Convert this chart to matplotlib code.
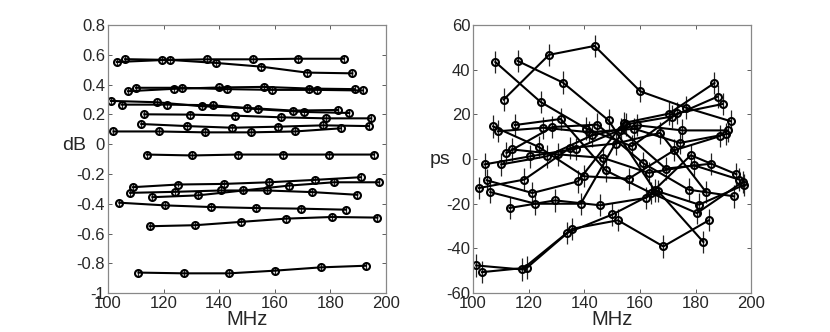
import matplotlib.pyplot as plt
from matplotlib.ticker import FormatStrFormatter

plt.rcParams['font.family'] = ['Liberation Sans', 'DejaVu Sans']
plt.rcParams['axes.unicode_minus'] = False

# frecuencias de cada canal (MHz), 16 canales x 6 puntos
freqs = [
    [103.2, 119.4, 135.7, 152.1, 168.4, 184.8],
    [106.2, 122.4, 138.7, 155.1, 171.5, 187.9],
    [107.2, 123.6, 139.8, 156.0, 172.3, 188.7],
    [110.1, 126.5, 142.8, 158.9, 175.3, 191.7],
    [101.1, 117.6, 133.7, 150.1, 166.5, 182.8],
    [104.9, 121.3, 137.7, 154.1, 170.4, 186.8],
    [113.1, 129.5, 145.7, 162.2, 178.3, 194.7],
    [112.0, 128.5, 144.7, 161.1, 177.5, 193.9],
    [102.0, 118.4, 134.8, 151.3, 167.3, 183.8],
    [114.0, 130.4, 146.7, 163.1, 179.4, 195.7],
    [108.9, 125.3, 141.6, 158.0, 174.4, 190.9],
    [108.0, 124.3, 140.7, 157.1, 173.5, 189.7],
    [116.0, 132.3, 148.7, 165.3, 181.3, 197.6],
    [104.1, 120.5, 136.9, 153.2, 169.3, 185.6],
    [115.0, 131.5, 147.7, 164.0, 180.5, 196.9],
    [111.0, 127.3, 143.7, 160.1, 176.5, 192.7],
]

# amplitud (dB)
db = [
    [0.551, 0.564, 0.569, 0.569, 0.573, 0.573],
    [0.570, 0.565, 0.545, 0.520, 0.480, 0.475],
    [0.355, 0.371, 0.380, 0.384, 0.373, 0.369],
    [0.378, 0.378, 0.369, 0.364, 0.364, 0.360],
    [0.290, 0.281, 0.254, 0.243, 0.225, 0.229],
    [0.265, 0.265, 0.261, 0.234, 0.216, 0.209],
    [0.200, 0.198, 0.191, 0.180, 0.173, 0.173],
    [0.135, 0.121, 0.110, 0.117, 0.126, 0.121],
    [0.085, 0.085, 0.079, 0.079, 0.085, 0.106],
    [-0.070, -0.076, -0.070, -0.070, -0.070, -0.070],
    [-0.289, -0.271, -0.267, -0.256, -0.240, -0.222],
    [-0.327, -0.320, -0.311, -0.311, -0.322, -0.340],
    [-0.356, -0.344, -0.311, -0.278, -0.256, -0.256],
    [-0.393, -0.411, -0.422, -0.429, -0.433, -0.440],
    [-0.551, -0.544, -0.522, -0.500, -0.489, -0.493],
    [-0.862, -0.867, -0.867, -0.849, -0.827, -0.816],
]

# retardo (ps)
ps = [
    [-50.6, -48.6, -31.2, -27.4, -39.1, -27.4],
    [-14.8, -20.0, -20.0, 15.5, 19.0, 27.9],
    [14.6, 5.4, -7.7, -8.8, 3.9, 10.2],
    [-2.4, 1.2, 10.6, 15.1, 12.8, 12.8],
    [-47.6, -49.4, -33.1, -24.8, -14.3, -37.1],
    [-9.5, -15.2, -10.0, 16.1, 20.3, 34.0],
    [-21.9, -18.5, -20.7, -17.4, 1.7, -6.8],
    [2.7, 14.3, 15.4, -1.8, -13.7, -16.7],
    [-13.0, -9.2, 4.9, 6.9, 11.7, -14.8],
    [4.3, 2.1, 0.5, -6.2, -2.8, -9.2],
    [12.4, 14.0, 12.0, 13.5, 7.2, 11.1],
    [43.4, 25.5, 13.6, 5.7, 20.5, 24.6],
    [43.9, 34.2, 17.3, -14.0, -20.4, -11.5],
    [-2.4, 1.2, 4.6, 13.2, -4.3, -2.1],
    [15.2, 17.9, -5.1, -15.2, -24.2, -10.3],
    [26.6, 46.6, 50.6, 30.3, 23.0, 16.9],
]

db_err = 0.02
ps_err = 5.0


def DrawPanel(ax, values, err, ylim, yticks, ylabel, ylab_y):
    i = 0
    while i < len(freqs):
        ax.errorbar(freqs[i], values[i], yerr=err, color='black', lw=1.5,
                    marker='o', ms=5, mfc='none', mec='black', mew=1.5,
                    ecolor='#222222', elinewidth=0.9, capsize=0)
        i += 1

    ax.set_xlim(100, 200)
    ax.set_ylim(ylim)
    ax.set_xticks([100, 120, 140, 160, 180, 200])
    ax.set_yticks(yticks)
    ax.yaxis.set_major_formatter(FormatStrFormatter('%g'))
    ax.tick_params(direction='in', top=True, right=True, length=3,
                   width=0.6, color='#444444', labelsize=12,
                   labelcolor='#262626', pad=2)
    for s in ax.spines.values():
        s.set_color('#888888')
        s.set_linewidth(0.9)
    ax.set_xlabel('MHz', fontsize=14.5, color='#262626', labelpad=-1)
    ax.set_ylabel(ylabel, fontsize=14, color='#262626', rotation=0,
                  ha='right', va='center')
    ax.yaxis.set_label_coords(-0.08, ylab_y)


fig = plt.figure(figsize=(8.3, 3.32), dpi=100)
ax1 = fig.add_axes([0.130, 0.117, 0.335, 0.808])
ax2 = fig.add_axes([0.570, 0.117, 0.335, 0.808])

DrawPanel(ax1, db, db_err, (-1, 0.8),
          [-1, -0.8, -0.6, -0.4, -0.2, 0, 0.2, 0.4, 0.6, 0.8], 'dB', 0.55)
DrawPanel(ax2, ps, ps_err, (-60, 60),
          [-60, -40, -20, 0, 20, 40, 60], 'ps', 0.5)

fig.savefig('out.png', dpi=100)
